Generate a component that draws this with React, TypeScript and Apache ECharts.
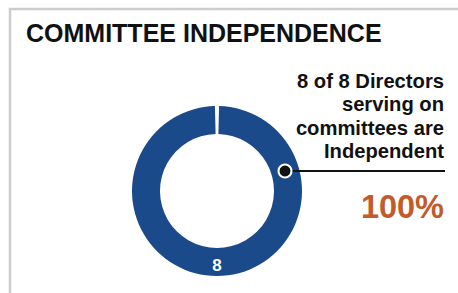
import React, { useEffect, useRef } from "react";
import * as echarts from "echarts";

const titleText = "COMMITTEE INDEPENDENCE";
const calloutLines = ["8 of 8 Directors", "serving on", "committees are", "Independent"];
const percentLabel = "100%";
const sliceNames = ["Independent"];
const sliceValues = [8];

const BLUE = "#1a4a8a";
const ORANGE = "#c25b2c";
const FONT = "'Liberation Sans', Arial, Helvetica, sans-serif";

export default function App() {
  const ref = useRef<HTMLDivElement>(null);
  useEffect(() => {
    if (!ref.current) return;
    const chart = echarts.init(ref.current, null, { renderer: "svg" });
    chart.setOption({
      animation: false,
      backgroundColor: "#ffffff",
      series: [
        {
          type: "pie",
          center: [217, 191],
          radius: [57, 85],
          startAngle: 88.6,
          endAngle: -268.6,
          clockwise: true,
          silent: true,
          itemStyle: { color: BLUE },
          label: {
            show: true,
            position: "inside",
            formatter: "{c}",
            color: "#ffffff",
            fontSize: 17,
            fontWeight: "bold",
            fontFamily: FONT,
          },
          labelLine: { show: false },
          data: sliceNames.map((n, i) => ({ name: n, value: sliceValues[i] })),
        },
      ],
      graphic: [
        {
          type: "polyline",
          shape: { points: [[10, 293], [10, 9], [458, 9]] },
          style: { stroke: "#cccccc", lineWidth: 2.5, fill: "none" },
          silent: true,
        },
        {
          type: "text",
          x: 26,
          y: 33,
          style: {
            text: titleText,
            font: `bold 25px ${FONT}`,
            fill: "#111111",
            align: "left",
            verticalAlign: "middle",
          },
        },
        {
          type: "text",
          x: 444,
          y: 69,
          style: {
            text: calloutLines.join("\n"),
            font: `bold 20.2px ${FONT}`,
            lineHeight: 23.5,
            align: "right",
            verticalAlign: "top",
            fill: "#111111",
          },
        },
        {
          type: "line",
          shape: { x1: 285, y1: 171, x2: 445, y2: 171 },
          style: { stroke: "#111111", lineWidth: 2 },
          z: 10,
        },
        {
          type: "circle",
          shape: { cx: 285, cy: 171, r: 6.5 },
          style: { fill: "#111111", stroke: "#ffffff", lineWidth: 2 },
          z: 11,
        },
        {
          type: "text",
          x: 444,
          y: 207,
          style: {
            text: percentLabel,
            font: `bold 32.5px ${FONT}`,
            fill: ORANGE,
            align: "right",
            verticalAlign: "middle",
          },
        },
      ],
    });
    return () => chart.dispose();
  }, []);
  return (
    <div
      ref={ref}
      style={{ position: "fixed", left: 0, top: 0, width: 458, height: 293 }}
    />
  );
}
